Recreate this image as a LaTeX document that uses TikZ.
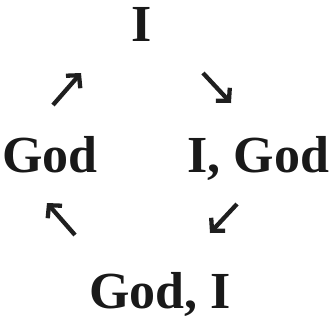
\documentclass[tikz,border=0pt]{standalone}
\usepackage{fontspec}
\setmainfont{Liberation Serif}
\usetikzlibrary{arrows.meta}
\begin{document}
\begin{tikzpicture}[x=1pt,y=-1pt,
  word/.style={inner sep=0pt,outer sep=0pt,font=\fontsize{52}{52}\selectfont\bfseries,text=black!90},
  cyc/.style={line width=4.3pt,draw=black!88,-{Straight Barb[length=9pt,width=19pt]}}]
\useasboundingbox (0,0) rectangle (330,322);
\node[word,anchor=base] (top) at (142,41) {I};
\node[word,anchor=base west] (left) at (2,172) {God};
\node[word,anchor=base east] (right) at (329,172) {I, God};
\node[word,anchor=base] (bottom) at (160,308) {God, I};
\coordinate (a1s) at (53,105); \coordinate (a1e) at (81,73);
\coordinate (a2s) at (203,73); \coordinate (a2e) at (231,103);
\coordinate (a3s) at (237,204); \coordinate (a3e) at (210,233);
\coordinate (a4s) at (75,235); \coordinate (a4e) at (47,203);
\draw[cyc] (a1s) -- (a1e);
\draw[cyc] (a2s) -- (a2e);
\draw[cyc] (a3s) -- (a3e);
\draw[cyc] (a4s) -- (a4e);
\end{tikzpicture}
\end{document}
